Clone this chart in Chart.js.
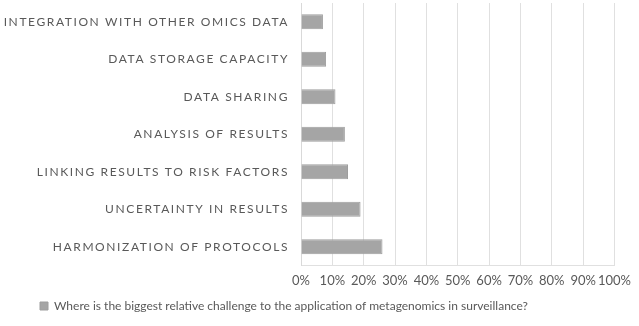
<!DOCTYPE html>
<html>
<head>
<meta charset="utf-8">
<script src="https://cdn.jsdelivr.net/npm/chart.js@4/dist/chart.umd.min.js"></script>
<style>
  html, body { margin: 0; padding: 0; background: #ffffff; }
  #wrap { width: 639px; height: 326px; position: relative; }
</style>
</head>
<body>
<div id="wrap"><canvas id="c"></canvas></div>
<script>
const categories = [
  "INTEGRATION WITH OTHER OMICS DATA",
  "DATA STORAGE CAPACITY",
  "DATA SHARING",
  "ANALYSIS OF RESULTS",
  "LINKING RESULTS TO RISK FACTORS",
  "UNCERTAINTY IN RESULTS",
  "HARMONIZATION OF PROTOCOLS"
];
const challengeValues = [7, 8, 11, 14, 15, 19, 26];
const seriesName = "Where is the biggest relative challenge to the application of metagenomics in surveillance?";
const tickLabels = ["0%", "10%", "20%", "30%", "40%", "50%", "60%", "70%", "80%", "90%", "100%"];

const spacedLabels = {
  id: 'spacedLabels',
  beforeDraw(chart) {
    const s = chart.scales.y;
    if (s && !s._spacedWrapped) {
      const orig = s.drawLabels;
      s._computeLabelArea = function () { return undefined; };
      s.drawLabels = function (area) {
        const ctx = this.ctx;
        ctx.save();
        ctx.letterSpacing = '1.6px';
        orig.call(this, area);
        ctx.restore();
      };
      s._spacedWrapped = true;
    }
  }
};

new Chart(document.getElementById('c'), {
  type: 'bar',
  data: {
    labels: categories,
    datasets: [{
      label: seriesName,
      data: challengeValues,
      backgroundColor: '#a5a5a5',
      borderColor: '#9e9e9e',
      borderWidth: 1,
      barPercentage: 0.4,
      categoryPercentage: 1.0
    }]
  },
  options: {
    indexAxis: 'y',
    responsive: true,
    maintainAspectRatio: false,
    animation: false,
    layout: { padding: { left: 35, right: 19, top: 3, bottom: 4 } },
    scales: {
      x: {
        min: 0, max: 100,
        afterBuildTicks(scale) {
          scale.ticks = tickLabels.map((t, i) => ({ value: i * 10 }));
        },
        afterFit(scale) {
          scale.height -= 2;
        },
        ticks: {
          callback: (v, i) => tickLabels[i],
          color: '#595959',
          font: { family: 'Lato', size: 13 },
          padding: 8,
          maxRotation: 0,
          autoSkip: false
        },
        grid: { color: '#e0e0e0', drawTicks: false, lineWidth: 1 },
        border: { color: '#e0e0e0' }
      },
      y: {
        afterFit(scale) {
          scale.width = 266;
          scale.paddingTop = 0;
          scale.paddingBottom = 0;
        },
        ticks: {
          color: '#595959',
          font: { family: 'Lato', size: 12 },
          padding: 12,
          autoSkip: false
        },
        grid: { display: false, drawTicks: false },
        border: { color: '#d9d9d9' }
      }
    },
    plugins: {
      legend: {
        position: 'bottom',
        align: 'start',
        labels: {
          color: '#595959',
          font: { family: 'Lato', size: 12 },
          boxWidth: 8,
          boxHeight: 8,
          padding: 5
        }
      },
      tooltip: { enabled: false }
    }
  },
  plugins: [spacedLabels]
});
</script>
</body>
</html>
